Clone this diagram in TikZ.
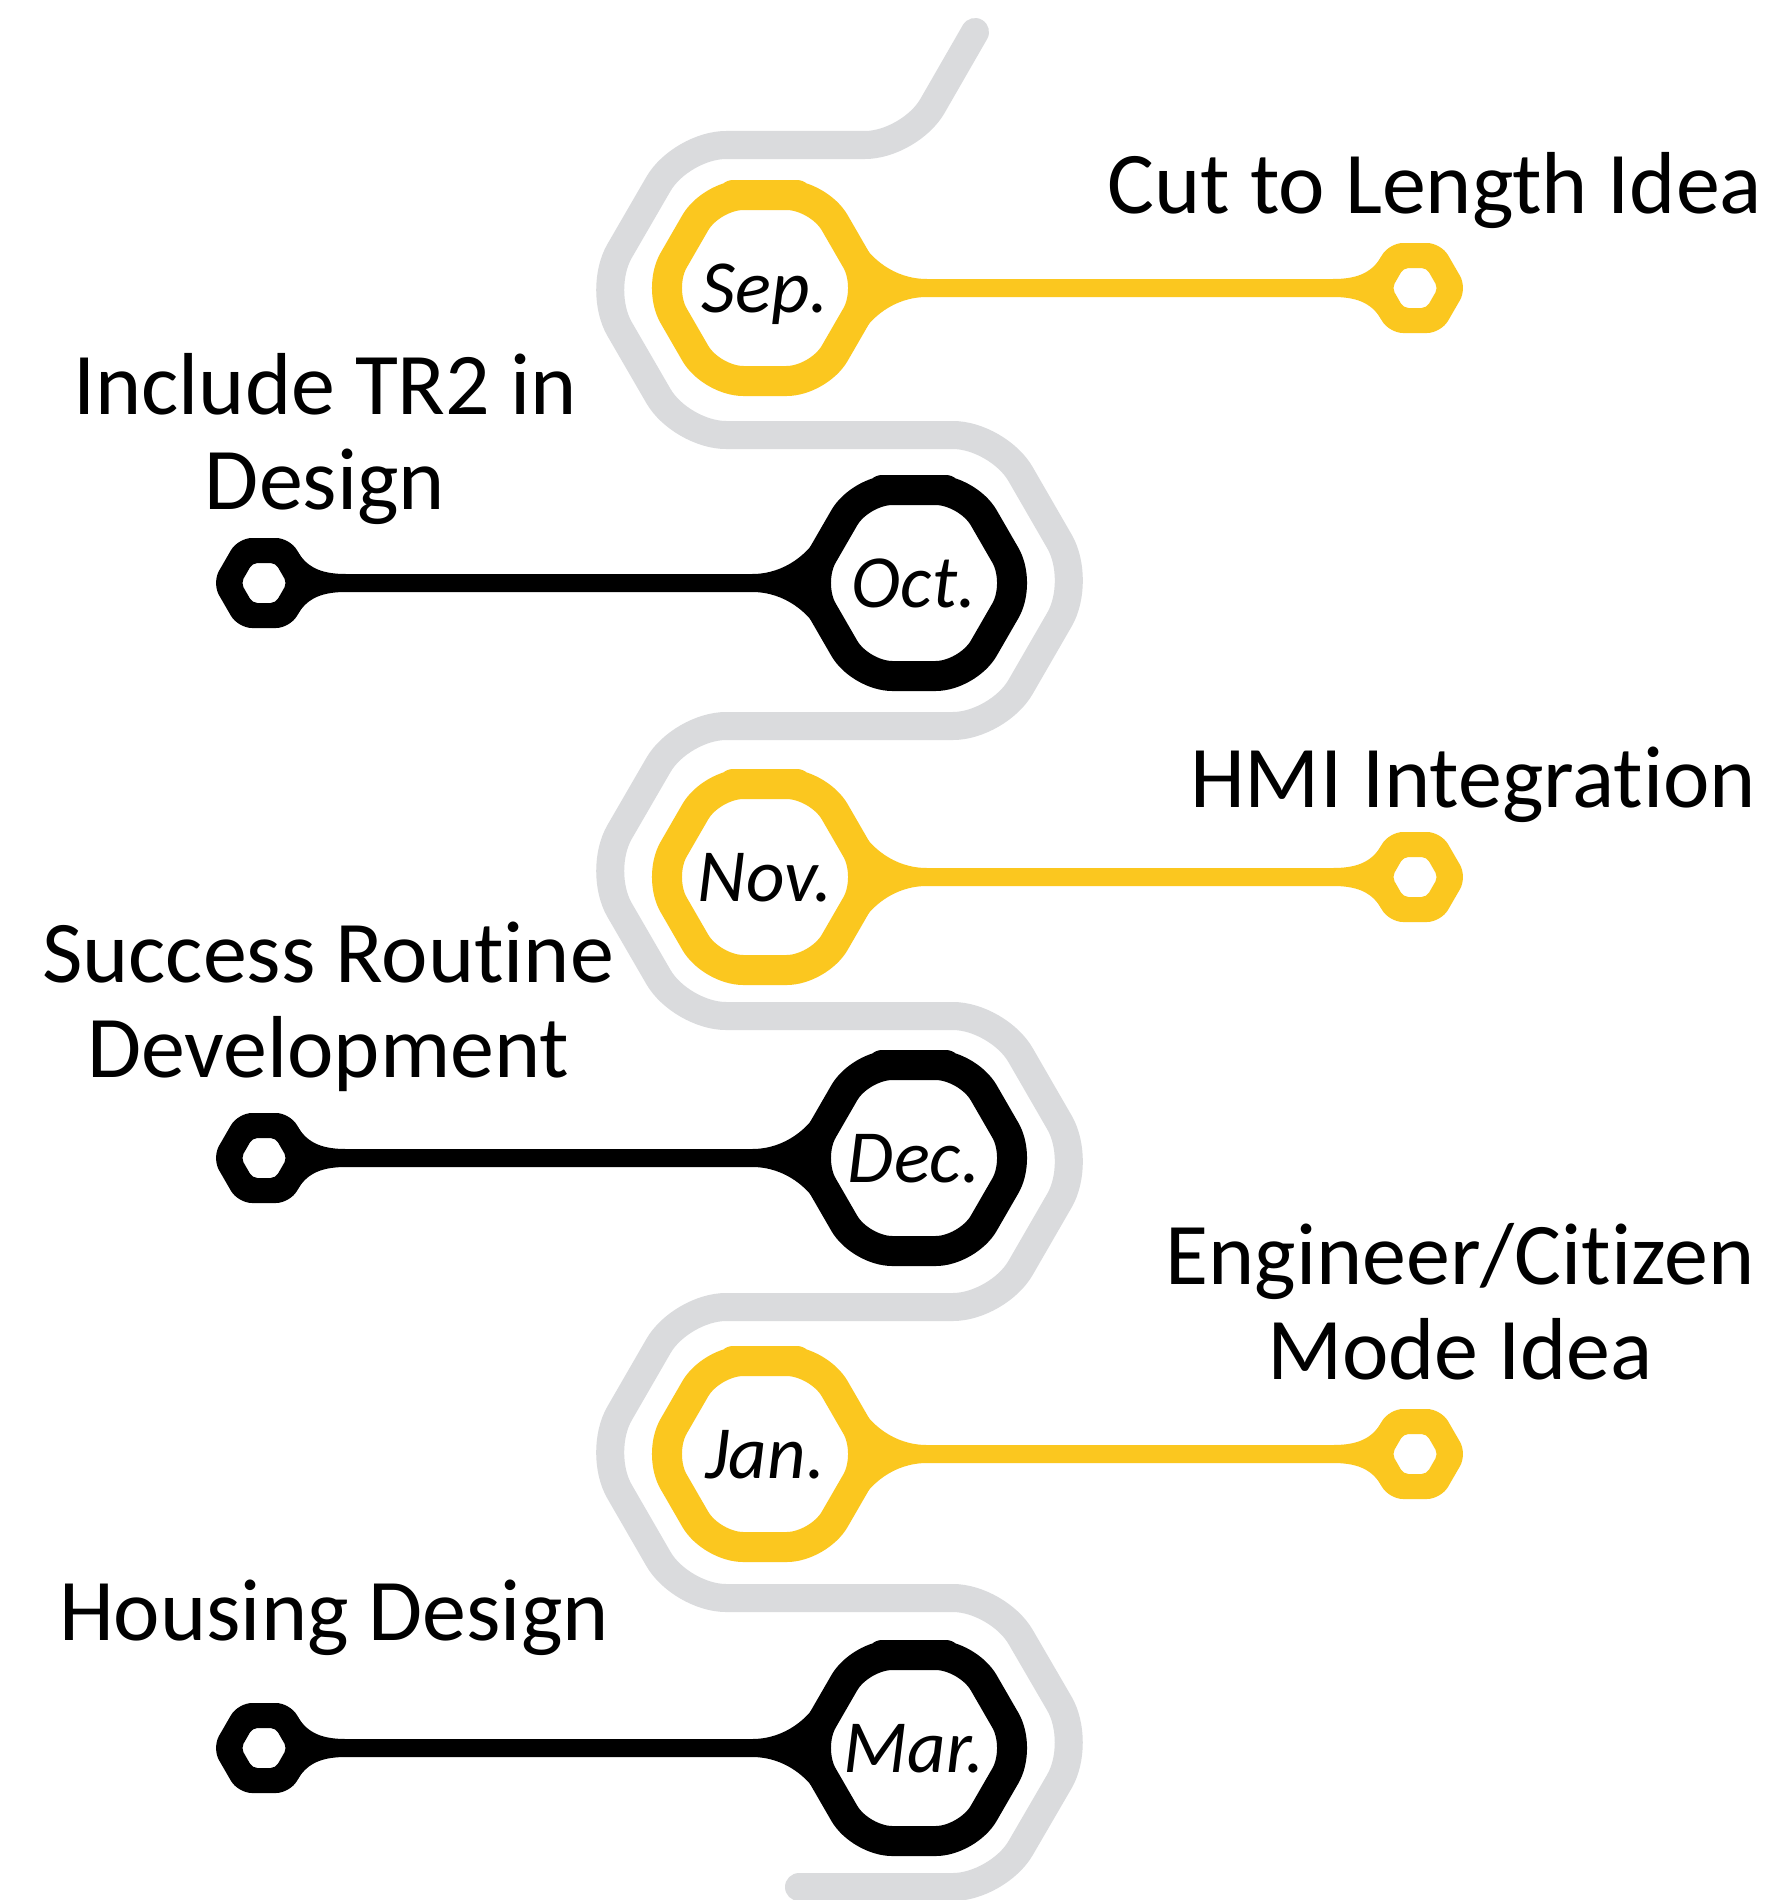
\documentclass[tikz,border=0pt]{standalone}
\usepackage{fontspec}
\setmainfont{Carlito}[Ligatures={NoCommon,NoRequired,NoContextual,NoRare}, RawFeature={-liga;-clig;-calt;-dlig}]
\usetikzlibrary{calc}
\definecolor{hexyellow}{RGB}{251,199,31}
\definecolor{pathgrey}{RGB}{218,219,221}
\tikzset{
  lbl/.style={font=\fontsize{88}{95}\selectfont, align=center, inner sep=0pt, anchor=base},
  monthlbl/.style={font=\fontsize{75}{80}\selectfont\itshape, inner sep=0pt, anchor=base},
  hexring/.style={line width=30pt, rounded corners=32pt, line join=round},
  greypath/.style={draw=pathgrey, line width=28pt, rounded corners=45pt, line cap=round, line join=round},
}
% #1 name, #2 cx, #3 cy, #4 colour, #5 direction (1 right, -1 left), #6 label
\newcommand\mhex[6]{%
  \begin{scope}[shift={(#2,#3)}, xscale=#5]
    \coordinate (#1C) at (0,0);
    \coordinate (#1S) at (650,0);
    % connector with flares
    \fill[#4] ($(#1C)+(95,-48)$) .. controls ($(#1C)+(105,-31)$) and ($(#1C)+(128,-9)$) .. ($(#1C)+(162,-9)$)
      -- ($(#1S)+(-82,-9)$) .. controls ($(#1S)+(-60,-9)$) and ($(#1S)+(-44,-14)$) .. ($(#1S)+(-34,-31)$)
      -- ($(#1S)+(-34,31)$) .. controls ($(#1S)+(-44,14)$) and ($(#1S)+(-60,9)$) .. ($(#1S)+(-82,9)$)
      -- ($(#1C)+(162,9)$) .. controls ($(#1C)+(128,9)$) and ($(#1C)+(105,31)$) .. ($(#1C)+(95,48)$) -- cycle;
    % month hexagon
    \draw[hexring, draw=#4] (0,-93) -- (53.7,-93) -- (107.4,0) -- (53.7,93) -- (-53.7,93) -- (-107.4,0) -- (-53.7,-93) -- cycle;
    % small hexagon at the free end
    \fill[#4, even odd rule]
      [rounded corners=14pt] (650,-45) -- (676,-45) -- (702,0) -- (676,45) -- (624,45) -- (598,0) -- (624,-45) -- cycle
      [rounded corners=5pt] (650,-20) -- (661.5,-20) -- (673,0) -- (661.5,20) -- (638.5,20) -- (627,0) -- (638.5,-20) -- cycle;
  \end{scope}
  \node[monthlbl] (#1) at ($(#1C)+(0,24)$) {#6};
}
\begin{document}
\begin{tikzpicture}[x=1pt, y=-1pt]
  \useasboundingbox (0,0) rectangle (1766,1900);
  \fill[white] (0,0) rectangle (1766,1900);
  % grey winding path
  \draw[greypath] (975,32) -- (910,145) -- (681,145) -- (597,290) -- (681,435) -- (998,435)
    -- (1082,580.5) -- (998,726) -- (681,726) -- (597,871) -- (681,1016) -- (998,1016)
    -- (1082,1161.5) -- (998,1307) -- (681,1307) -- (597,1452.5) -- (681,1598) -- (998,1598)
    -- (1082,1742.5) -- (998,1887) -- (799,1887);
  % months
  \mhex{sep}{765}{288}{hexyellow}{1}{Sep.}
  \mhex{oct}{914}{583}{black}{-1}{Oct.}
  \mhex{nov}{765}{877}{hexyellow}{1}{Nov.}
  \mhex{dec}{914}{1158}{black}{-1}{Dec.}
  \mhex{jan}{765}{1454}{hexyellow}{1}{Jan.}
  \mhex{mar}{914}{1748}{black}{-1}{Mar.}
  % labels (multi-line nodes: base = baseline of the last line)
  \node[lbl] (cut) at (1435,213) {Cut to Length Idea};
  \node[lbl] (tr2) at (325,509) {Include TR2 in\\Design};
  \node[lbl] (hmi) at (1473,807) {HMI Integration};
  \node[lbl] (succ) at (328,1077) {Success Routine\\Development};
  \node[lbl] (eng) at (1460,1379) {Engineer/Citizen\\Mode Idea};
  \node[lbl] (hous) at (334,1640) {Housing Design};
\end{tikzpicture}
\end{document}
